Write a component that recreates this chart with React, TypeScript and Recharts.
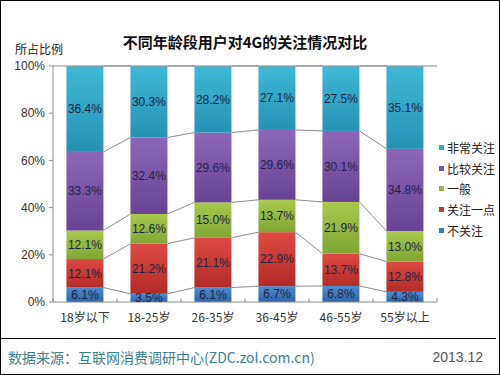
import React from 'react';
import { Bar, BarChart, LabelList, ReferenceLine, XAxis, YAxis } from 'recharts';

const categories = ['18岁以下', '18-25岁', '26-35岁', '36-45岁', '46-55岁', '55岁以上'];
const notConcerned = [6.1, 3.5, 6.1, 6.7, 6.8, 4.3];
const littleConcerned = [12.1, 21.2, 21.1, 22.9, 13.7, 12.8];
const neutral = [12.1, 12.6, 15.0, 13.7, 21.9, 13.0];
const fairlyConcerned = [33.3, 32.4, 29.6, 29.6, 30.1, 34.8];
const veryConcerned = [36.4, 30.3, 28.2, 27.1, 27.5, 35.1];
const yTicks = [0, 20, 40, 60, 80, 100];

const seriesNames = ['不关注', '关注一点', '一般', '比较关注', '非常关注'];
const seriesValues = [notConcerned, littleConcerned, neutral, fairlyConcerned, veryConcerned];
const keys = ['s0', 's1', 's2', 's3', 's4'];
const colors = [
  ['#4f8ad0', '#2f66aa', '#3f78be'],
  ['#dc4a43', '#b32b27', '#c83a35'],
  ['#a8c84e', '#82a534', '#98b843'],
  ['#8c66ba', '#684393', '#7a55a8'],
  ['#3fb8d8', '#2592b6', '#32a8ca'],
];

const data = categories.map((name, i) => {
  const row: any = { name };
  seriesValues.forEach((vals, s) => (row[keys[s]] = vals[i]));
  return row;
});

// running totals for the series lines
const cumTop = seriesValues.map((_, s) =>
  categories.map((_, i) => seriesValues.slice(0, s + 1).reduce((a, v) => a + v[i], 0))
);

const W = 500;
const H = 375;
const margin = { top: 66, right: 63, bottom: 43, left: 13 };
const yAxisW = 40;
const band = (W - margin.left - margin.right - yAxisW) / categories.length;
const font = '"Liberation Sans", Arial, sans-serif';
const cjk = '"Noto Sans CJK SC", sans-serif';

const makeShape = (s: number) => (props: any) => {
  const { x, y, width, height, index, fill } = props;
  const v = seriesValues[s][index];
  const ppu = v ? height / v : 0;
  const hasNext = index < categories.length - 1;
  const yNext = hasNext ? y - (cumTop[s][index + 1] - cumTop[s][index]) * ppu : 0;
  return (
    <g>
      <rect x={x} y={y} width={width} height={height} fill={fill} />
      {hasNext && (
        <line x1={x + width} y1={y} x2={x + band} y2={yNext} stroke="#8c8c8c" strokeWidth={1} />
      )}
    </g>
  );
};

const XTick = (props: any) => {
  const { x, y, payload, index } = props;
  const axisY = y;
  return (
    <g>
      <line x1={x - band / 2} y1={axisY - 4} x2={x - band / 2} y2={axisY} stroke="#8c8c8c" />
      {index === categories.length - 1 && (
        <line x1={x + band / 2} y1={axisY - 4} x2={x + band / 2} y2={axisY} stroke="#8c8c8c" />
      )}
      <text x={x} y={axisY + 20} textAnchor="middle" fontSize={12} fill="#333" fontFamily={cjk}>
        {payload.value}
      </text>
    </g>
  );
};

const legendTops = [147, 168, 188, 209, 230];

export default function App() {
  return (
    <div style={{ position: 'relative', width: W, height: H, background: '#fff' }}>
      <style>{'body{margin:0}'}</style>
      <BarChart width={W} height={H} data={data} margin={margin} barCategoryGap="21%">
        <defs>
          {colors.map((c, s) => (
            <linearGradient key={s} id={'g' + s} x1="0" y1="0" x2="0" y2="1">
              <stop offset="0%" stopColor={c[0]} />
              <stop offset="100%" stopColor={c[1]} />
            </linearGradient>
          ))}
        </defs>
        <XAxis
          dataKey="name"
          tickLine={false}
          tickSize={0}
          tickMargin={0}
          axisLine={{ stroke: '#8c8c8c' }}
          tick={<XTick />}
          interval={0}
        />
        <YAxis
          width={yAxisW}
          domain={[0, 100]}
          ticks={yTicks}
          interval={0}
          tickFormatter={(v: number) => v + '%'}
          axisLine={{ stroke: '#8c8c8c' }}
          tickLine={{ stroke: '#8c8c8c' }}
          tickSize={4}
          tickMargin={4}
          tick={{ fontSize: 12, fill: '#333', fontFamily: font }}
        />
        <ReferenceLine y={100} stroke="#8c8c8c" />
        {keys.map((k, s) => (
          <Bar
            key={k}
            dataKey={k}
            name={seriesNames[s]}
            stackId="a"
            fill={'url(#g' + s + ')'}
            shape={makeShape(s)}
            isAnimationActive={false}
          >
            <LabelList
              dataKey={k}
              position="center"
              formatter={(v: any) => Number(v).toFixed(1) + '%'}
              fill="#1b2440"
              fontSize={12}
              fontFamily={font}
            />
          </Bar>
        ))}
      </BarChart>

      <div
        style={{
          position: 'absolute',
          left: 0,
          right: 0,
          top: 32,
          textAlign: 'center',
          paddingRight: 10,
          fontFamily: cjk,
          fontWeight: 'bold',
          fontSize: 15,
          color: '#111',
          lineHeight: '20px',
        }}
      >
        不同年龄段用户对4G的关注情况对比
      </div>
      <div
        style={{ position: 'absolute', left: 15, top: 41, fontFamily: cjk, fontSize: 12, color: '#222', lineHeight: '16px' }}
      >
        所占比例
      </div>

      {[4, 3, 2, 1, 0].map((s, j) => (
        <div
          key={s}
          style={{
            position: 'absolute',
            left: 439,
            top: legendTops[j] - 9,
            height: 18,
            display: 'flex',
            alignItems: 'center',
            fontFamily: cjk,
            fontSize: 12,
            color: '#222',
          }}
        >
          <span style={{ width: 5, height: 5, background: colors[s][2], marginRight: 3 }} />
          {seriesNames[s]}
        </div>
      ))}

      <div style={{ position: 'absolute', left: 0, top: 338, width: 496, height: 1, background: '#000' }} />
      <div
        style={{ position: 'absolute', left: 8, top: 347, fontFamily: cjk, fontSize: 14, color: '#3d7f8e', lineHeight: '20px' }}
      >
        数据来源：互联网消费调研中心(ZDC.zol.com.cn)
      </div>
      <div
        style={{ position: 'absolute', right: 17, top: 347, fontFamily: font, fontSize: 14, color: '#555', lineHeight: '20px' }}
      >
        2013.12
      </div>
      <div
        style={{
          position: 'absolute',
          left: 0,
          top: 0,
          width: W,
          height: H,
          boxSizing: 'border-box',
          border: '1px solid #000',
          pointerEvents: 'none',
        }}
      />
    </div>
  );
}
